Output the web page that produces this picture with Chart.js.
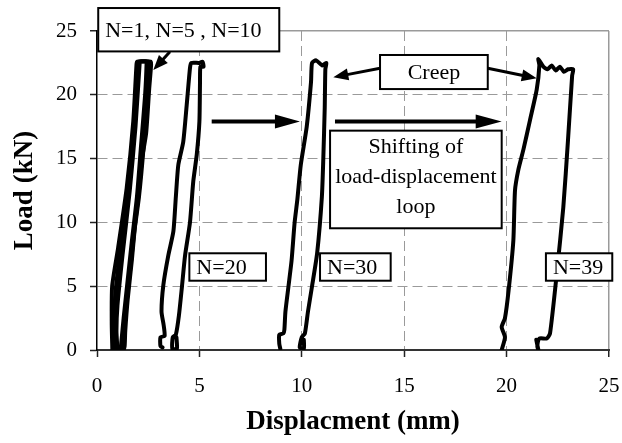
<!DOCTYPE html>
<html>
<head>
<meta charset="utf-8">
<script src="https://cdn.jsdelivr.net/npm/chart.js@4.4.0/dist/chart.umd.min.js"></script>
<style>
  html, body { margin: 0; padding: 0; background: #fff; }
  #wrap { width: 622px; height: 443px; }
</style>
</head>
<body>
<div id="wrap"><canvas id="chart"></canvas></div>
<script>
// Load-displacement loops (displacement in mm, load in kN)
var n1Disp = [0.75, 0.72, 0.74, 1.03, 1.45, 1.77, 1.93, 1.96, 2.4, 2.42, 2.35, 2.15, 1.95, 1.7, 1.5, 1.3, 1.2, 1.15];
var n1Load = [0, 2, 5, 8, 12.7, 17.9, 22.4, 22.6, 22.6, 22.4, 20, 16, 12, 8.5, 5.5, 2.5, 0.8, 0];

var n5Disp = [0.85, 0.85, 0.9, 1.15, 1.5, 1.82, 2.0, 2.02, 2.52, 2.54, 2.45, 2.28, 2.05, 1.8, 1.6, 1.4, 1.3, 1.25];
var n5Load = [0, 2.5, 4.5, 8, 12.5, 17.5, 22.4, 22.6, 22.6, 22.3, 20, 16, 12, 9, 6, 3, 1, 0];

var n10Disp = [1.0, 0.95, 1.0, 1.25, 1.6, 1.88, 2.08, 2.1, 2.62, 2.64, 2.55, 2.4, 2.2, 2.05, 1.87, 1.7, 1.5, 1.38, 1.35, 1.3];
var n10Load = [0, 1.5, 3.5, 7.5, 12.5, 17.5, 22.4, 22.6, 22.6, 22.3, 20.5, 17, 15, 12.5, 10, 7, 4, 1.5, 0.3, 0];

var n20Disp = [3.2, 3.1, 3.1, 3.3, 3.25, 3.15, 3.24, 3.48, 3.73, 3.85, 3.97, 4.21, 4.38, 4.54, 4.6, 5.0, 5.15, 5.2, 5.05, 5.03, 5.0, 4.87, 4.7, 4.54, 4.3, 4.15, 4.0, 3.85, 3.7, 3.68, 3.9, 3.88];
var n20Load = [0.2, 0.3, 1.0, 1.1, 2.0, 3.0, 5.1, 7.4, 9.3, 12, 14.5, 16.3, 19.2, 22.1, 22.5, 22.5, 22.6, 22.2, 22.2, 21, 17.9, 15.3, 13.2, 10, 7.4, 5, 2.7, 1.2, 1.0, 0.1, 0.1, 1.0];

var n30Disp = [8.95, 8.9, 8.9, 9.1, 9.15, 9.2, 9.35, 9.5, 9.65, 9.78, 9.95, 10.24, 10.45, 10.5, 10.7, 11.0, 11.2, 11.15, 11.12, 11.05, 10.98, 10.75, 10.5, 10.3, 10.15, 10.0, 9.9, 10.1, 10.1];
var n30Load = [0.1, 0.5, 1.2, 1.3, 1.6, 3, 5, 7, 10, 11.75, 14.5, 17.5, 21, 22.5, 22.7, 22.3, 22.5, 22.0, 19, 15, 12, 7.6, 5, 3, 1.3, 1.0, 0.2, 0.1, 0.8];

var n39Disp = [19.76, 19.92, 19.76, 19.92, 20.1, 20.33, 20.41, 20.57, 20.82, 21.14, 21.47, 21.6, 21.55, 21.8, 22.0, 22.2, 22.4, 22.6, 22.8, 23.0, 23.25, 23.2, 23.0, 22.77, 22.45, 22.12, 21.96, 21.6, 21.5, 21.55, 21.45];
var n39Load = [0, 1.0, 1.8, 2.5, 4.7, 8.6, 12.5, 14.1, 15.7, 18.0, 20.4, 22.3, 22.8, 22.2, 22.0, 22.3, 21.9, 22.2, 21.8, 22.0, 22.0, 21.5, 16.5, 11.2, 6.0, 1.3, 0.9, 0.9, 0.3, 0, 0.8];

var xTickStep = 5;
var yTickStep = 5;

// Text boxes and arrows, given in axis units
var boxes = [
  { lines: ["N=1, N=5 , N=10"], x1: 0.06, y1: 26.8, x2: 8.9, y2: 23.4, align: "left" },
  { lines: ["Creep"], x1: 13.82, y1: 23.12, x2: 19.08, y2: 20.45, align: "center" },
  { lines: ["Shifting of", "load-displacement", "loop"], x1: 11.38, y1: 17.19, x2: 19.76, y2: 9.54, align: "center" },
  { lines: ["N=20"], x1: 4.51, y1: 7.58, x2: 8.25, y2: 5.43, align: "left" },
  { lines: ["N=30"], x1: 10.89, y1: 7.58, x2: 14.34, y2: 5.43, align: "left" },
  { lines: ["N=39"], x1: 21.92, y1: 7.58, x2: 25.16, y2: 5.43, align: "left" }
];
var arrows = [
  { from: [3.56, 23.38], to: [2.75, 21.94], width: 3, head: 15, half: 6 },
  { from: [5.6, 17.9], to: [9.91, 17.9], width: 4, head: 25, half: 7 },
  { from: [11.62, 17.9], to: [19.76, 17.9], width: 4, head: 26, half: 7 },
  { from: [13.82, 22.08], to: [11.54, 21.37], width: 3, head: 15, half: 6 },
  { from: [19.08, 22.08], to: [21.47, 21.29], width: 3, head: 15, half: 6 }
];

function pts(xs, ys) {
  return xs.map(function (x, i) { return { x: x, y: ys[i] }; });
}

function loop(xs, ys) {
  return {
    data: pts(xs, ys),
    showLine: true,
    borderColor: "#000",
    borderWidth: 4,
    pointRadius: 0,
    tension: 0.2,
    borderJoinStyle: "round",
    borderCapStyle: "round"
  };
}

var serif = "'Liberation Serif', 'DejaVu Serif', serif";

var annotations = {
  id: "annotations",
  afterDatasetsDraw: function (chart) {
    var ctx = chart.ctx;
    var sx = chart.scales.x, sy = chart.scales.y;
    ctx.save();
    // arrows
    arrows.forEach(function (a) {
      var x1 = sx.getPixelForValue(a.from[0]), y1 = sy.getPixelForValue(a.from[1]);
      var x2 = sx.getPixelForValue(a.to[0]), y2 = sy.getPixelForValue(a.to[1]);
      var ang = Math.atan2(y2 - y1, x2 - x1);
      var bx = x2 - a.head * Math.cos(ang), by = y2 - a.head * Math.sin(ang);
      ctx.strokeStyle = "#000";
      ctx.fillStyle = "#000";
      ctx.lineWidth = a.width;
      ctx.beginPath();
      ctx.moveTo(x1, y1);
      ctx.lineTo(bx + Math.cos(ang), by + Math.sin(ang));
      ctx.stroke();
      ctx.beginPath();
      ctx.moveTo(x2, y2);
      ctx.lineTo(bx + a.half * Math.sin(ang), by - a.half * Math.cos(ang));
      ctx.lineTo(bx - a.half * Math.sin(ang), by + a.half * Math.cos(ang));
      ctx.closePath();
      ctx.fill();
    });
    // boxes
    ctx.font = "22px " + serif;
    ctx.textBaseline = "middle";
    boxes.forEach(function (b) {
      var l = sx.getPixelForValue(b.x1), r = sx.getPixelForValue(b.x2);
      var t = sy.getPixelForValue(b.y1), btm = sy.getPixelForValue(b.y2);
      ctx.fillStyle = "#fff";
      ctx.fillRect(l, t, r - l, btm - t);
      ctx.strokeStyle = "#000";
      ctx.lineWidth = 2;
      ctx.strokeRect(l, t, r - l, btm - t);
      ctx.fillStyle = "#000";
      var cy = (t + btm) / 2 - 3 * (b.lines.length > 1 ? 1 : 0);
      var lh = 30;
      b.lines.forEach(function (s, i) {
        var y = cy + (i - (b.lines.length - 1) / 2) * lh;
        if (b.align === "left") {
          ctx.textAlign = "left";
          ctx.fillText(s, l + 7, y + 1);
        } else {
          ctx.textAlign = "center";
          ctx.fillText(s, (l + r) / 2, y + 1);
        }
      });
    });
    ctx.restore();
  }
};

function gridColor(c) {
  if (!c.tick || c.tick.value === 0) return "rgba(0,0,0,0)";
  return "#9a9a9a";
}
function gridDash(c) {
  if (c.tick && c.tick.value === 25) return [];
  return [10, 5];
}

new Chart(document.getElementById("chart"), {
  type: "scatter",
  data: {
    datasets: [
      loop(n1Disp, n1Load),
      loop(n5Disp, n5Load),
      loop(n10Disp, n10Load),
      loop(n20Disp, n20Load),
      loop(n30Disp, n30Load),
      loop(n39Disp, n39Load)
    ]
  },
  options: {
    responsive: true,
    maintainAspectRatio: false,
    animation: false,
    layout: { padding: { top: 31, right: 13, left: 0, bottom: 0 } },
    plugins: {
      legend: { display: false },
      tooltip: { enabled: false }
    },
    scales: {
      x: {
        type: "linear",
        min: 0,
        max: 25,
        afterFit: function (scale) {
          scale.height = 93;
          scale.paddingLeft = 0;
          scale.paddingRight = 0;
        },
        ticks: {
          stepSize: xTickStep,
          maxRotation: 0,
          padding: 17,
          color: "#000",
          font: { family: serif, size: 21 }
        },
        grid: {
          color: gridColor,
          lineWidth: function (c) { return c.tick && c.tick.value === 25 ? 1.5 : 1; },
          tickLength: 7,
          tickColor: "#222",
          tickWidth: 1.5
        },
        border: { display: true, color: "#333", width: 2, dash: gridDash },
        title: {
          display: true,
          text: "Displacment (mm)",
          color: "#000",
          font: { family: serif, size: 27, weight: "bold" },
          padding: { top: 0, bottom: 5 }
        }
      },
      y: {
        type: "linear",
        min: 0,
        max: 25,
        afterFit: function (scale) {
          scale.width = 97;
          scale.paddingTop = 0;
          scale.paddingBottom = 0;
        },
        ticks: {
          stepSize: yTickStep,
          padding: 13,
          color: "#000",
          font: { family: serif, size: 21 }
        },
        grid: {
          color: gridColor,
          lineWidth: function (c) { return c.tick && c.tick.value === 25 ? 1.5 : 1; },
          tickLength: 7,
          tickColor: "#222",
          tickWidth: 1.5
        },
        border: { display: true, color: "#000", width: 1.5, dash: gridDash },
        title: {
          display: true,
          text: "Load (kN)",
          color: "#000",
          font: { family: serif, size: 27, weight: "bold" },
          padding: { top: 9, bottom: 0 }
        }
      }
    }
  },
  plugins: [annotations]
});
</script>
</body>
</html>
